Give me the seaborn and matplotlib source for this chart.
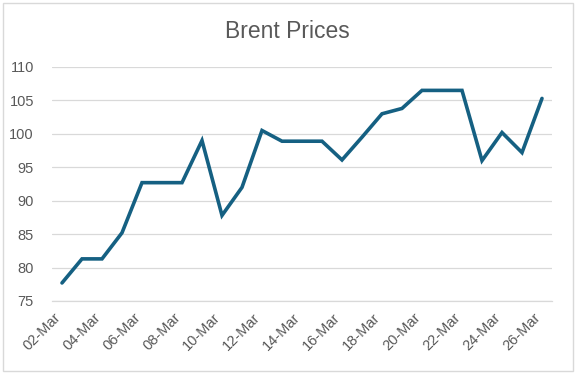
import matplotlib
matplotlib.use("Agg")
import matplotlib.pyplot as plt
import matplotlib.patches as patches
import matplotlib.transforms as mtransforms
import seaborn as sns
import numpy as np
import pandas as pd

# Daily Brent prices, 02-Mar to 26-Mar
dates = ["02-Mar", "03-Mar", "04-Mar", "05-Mar", "06-Mar", "07-Mar", "08-Mar",
         "09-Mar", "10-Mar", "11-Mar", "12-Mar", "13-Mar", "14-Mar", "15-Mar",
         "16-Mar", "17-Mar", "18-Mar", "19-Mar", "20-Mar", "21-Mar", "22-Mar",
         "23-Mar", "24-Mar", "25-Mar", "26-Mar"]
prices = [77.7, 81.3, 81.3, 85.2, 92.7, 92.7, 92.7, 99.0, 87.8, 92.0, 100.5,
          98.9, 98.9, 98.9, 96.1, 99.5, 103.0, 103.8, 106.5, 106.5, 106.5,
          96.0, 100.2, 97.2, 105.3]
y_ticks = [75, 80, 85, 90, 95, 100, 105, 110]

df = pd.DataFrame({"day": np.arange(len(dates)), "price": prices})

sns.set_style("white")
plt.rcParams["font.family"] = ["Liberation Sans", "DejaVu Sans"]

TEXT = "#595959"
GRID = "#d9d9d9"

fig = plt.figure(figsize=(5.78, 3.74), dpi=100)
ax = fig.add_axes([52 / 578, 1 - 301 / 374, 500 / 578, 234 / 374])

sns.lineplot(data=df, x="day", y="price", ax=ax, color="#156082", linewidth=2.6,
             solid_joinstyle="miter")

ax.set_xlim(-0.5, len(dates) - 0.5)
ax.set_ylim(75, 110)
ax.set_yticks(y_ticks)
ax.set_yticklabels([str(v) for v in y_ticks])
ax.yaxis.grid(True, color=GRID, linewidth=0.9)
ax.set_axisbelow(True)

tick_pos = np.arange(0, len(dates), 2) - 0.5
ax.set_xticks(tick_pos)
ax.set_xticklabels(dates[::2], rotation=45, ha="right", va="center",
                   rotation_mode="anchor")

ax.tick_params(axis="y", length=0, pad=13, labelsize=10.5, labelcolor=TEXT)
ax.tick_params(axis="x", length=6, width=0.9, color=GRID, pad=4,
               labelsize=10.5, labelcolor=TEXT)
shift = mtransforms.ScaledTranslation(0.06, 0, fig.dpi_scale_trans)
for lbl in ax.get_xticklabels():
    lbl.set_transform(lbl.get_transform() + shift)
ax.set_xlabel("")
ax.set_ylabel("")

for s in ["top", "right", "left"]:
    ax.spines[s].set_visible(False)
ax.spines["bottom"].set_color(GRID)
ax.spines["bottom"].set_linewidth(0.9)

fig.text(0.497, 1 - 31 / 374, "Brent Prices", ha="center", va="center",
         fontsize=16.5, color=TEXT)

border = patches.Rectangle((2.5 / 578, 3 / 374), 570 / 578, 368 / 374,
                           transform=fig.transFigure, fill=False,
                           edgecolor=GRID, linewidth=1)
fig.patches.append(border)

fig.savefig("out.png", dpi=100)
